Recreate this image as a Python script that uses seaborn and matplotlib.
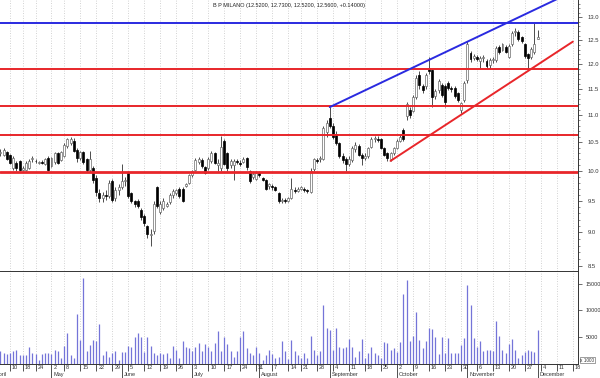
import matplotlib
matplotlib.use("Agg")
import matplotlib.pyplot as plt
import matplotlib.ticker as mticker
import matplotlib.transforms as mtransforms
import numpy as np
import pandas as pd
import seaborn as sns

# ---------------------------------------------------------------------------
# Data (B P MILANO, daily, April - December 2006)
# ---------------------------------------------------------------------------
START = "2006-04-03"
END = "2006-12-29"
HOLIDAYS = ["2006-04-14", "2006-04-17", "2006-05-01", "2006-08-15",
            "2006-12-25", "2006-12-26"]
FIRST_DAY = "2006-04-05"

OPEN = [10.30, 10.28, 10.32, 10.27, 10.05, 10.14, 10.16, 10.02, 10.02, 10.05,
        10.20, 10.17, 10.14, 10.15, 10.12, 10.22, 10.08, 10.15, 10.30, 10.18,
        10.26, 10.44, 10.48, 10.52, 10.36, 10.22, 10.32, 10.20, 10.02, 10.05,
        9.88, 9.62, 9.55, 9.60, 9.58, 9.82, 9.55, 9.68, 9.72, 9.82,
        9.97, 9.62, 9.50, 9.50, 9.35, 9.26, 9.10, 8.96, 9.02, 9.72,
        9.32, 9.38, 9.42, 9.48, 9.60, 9.62, 9.70, 9.70, 9.74, 9.80,
        9.92, 10.02, 10.15, 10.18, 10.06, 10.04, 10.16, 10.30, 10.10, 10.05,
        10.52, 10.30, 10.10, 10.10, 10.17, 10.14, 10.15, 10.22, 10.00, 9.90,
        9.86, 9.96, 9.87, 9.84, 9.74, 9.75, 9.72, 9.62, 9.50, 9.51,
        9.50, 9.55, 9.68, 9.66, 9.70, 9.70, 9.68, 9.65, 10.03, 10.18,
        10.20, 10.20, 10.68, 10.95, 10.80, 10.65, 10.48, 10.25, 10.20, 10.12,
        10.18, 10.38, 10.44, 10.28, 10.22, 10.25, 10.42, 10.55, 10.56, 10.55,
        10.40, 10.30, 10.20, 10.30, 10.40, 10.52, 10.72, 10.98, 11.10, 11.08,
        11.35, 11.78, 11.55, 11.55, 11.92, 11.88, 11.36, 11.48, 11.58, 11.55,
        11.62, 11.52, 11.52, 11.42, 11.10, 11.28, 11.68, 12.24, 12.12, 12.15,
        12.06, 12.12, 12.06, 11.98, 12.08, 12.08, 12.36, 12.30, 12.36, 12.15,
        12.42, 12.68, 12.68, 12.56, 12.42, 12.20, 12.15, 12.25, 12.52]
HIGH = [10.38, 10.40, 10.34, 10.29, 10.25, 10.16, 10.18, 10.08, 10.16, 10.20,
        10.25, 10.20, 10.17, 10.18, 10.22, 10.25, 10.24, 10.32, 10.33, 10.35,
        10.48, 10.58, 10.60, 10.57, 10.40, 10.35, 10.34, 10.22, 10.35, 10.08,
        9.92, 9.70, 9.65, 9.68, 9.85, 9.86, 9.72, 9.78, 10.12, 9.90,
        10.00, 9.65, 9.52, 9.53, 9.38, 9.28, 9.12, 9.05, 9.50, 9.75,
        9.50, 9.55, 9.48, 9.62, 9.70, 9.70, 9.72, 9.72, 9.80, 9.95,
        10.02, 10.22, 10.24, 10.22, 10.08, 10.24, 10.35, 10.32, 10.20, 10.62,
        10.55, 10.33, 10.20, 10.20, 10.20, 10.18, 10.24, 10.24, 10.02, 10.00,
        9.99, 10.00, 9.89, 9.86, 9.80, 9.78, 9.75, 9.64, 9.55, 9.54,
        9.56, 9.88, 9.72, 9.73, 9.75, 9.73, 9.70, 10.05, 10.22, 10.22,
        10.25, 10.80, 10.90, 11.15, 10.85, 10.70, 10.50, 10.30, 10.24, 10.25,
        10.43, 10.50, 10.47, 10.30, 10.30, 10.42, 10.60, 10.62, 10.62, 10.58,
        10.42, 10.32, 10.33, 10.42, 10.55, 10.65, 10.75, 11.25, 11.15, 11.38,
        11.78, 11.85, 11.60, 11.82, 12.15, 11.90, 11.50, 11.70, 11.62, 11.60,
        11.66, 11.56, 11.55, 11.45, 11.25, 11.66, 12.48, 12.28, 12.20, 12.18,
        12.16, 12.18, 12.10, 12.12, 12.14, 12.38, 12.40, 12.45, 12.40, 12.42,
        12.70, 12.77, 12.72, 12.60, 12.45, 12.24, 12.36, 12.87, 12.73]
LOW = [10.25, 10.25, 10.18, 10.12, 10.02, 10.00, 9.99, 9.99, 10.00, 10.03,
       10.15, 10.13, 10.12, 10.12, 10.10, 9.99, 10.06, 10.12, 10.12, 10.16,
       10.24, 10.40, 10.45, 10.32, 10.15, 10.18, 10.12, 9.98, 9.98, 9.80,
       9.58, 9.48, 9.48, 9.52, 9.55, 9.48, 9.50, 9.60, 9.70, 9.75,
       9.55, 9.46, 9.40, 9.38, 9.20, 9.10, 8.92, 8.80, 8.98, 9.38,
       9.28, 9.35, 9.40, 9.45, 9.55, 9.60, 9.55, 9.48, 9.72, 9.78,
       9.90, 10.00, 10.12, 10.05, 9.94, 10.02, 10.14, 10.12, 10.00, 10.00,
       10.10, 10.00, 10.05, 9.84, 10.12, 10.08, 10.13, 10.02, 9.80, 9.86,
       9.84, 9.90, 9.83, 9.68, 9.70, 9.68, 9.66, 9.46, 9.46, 9.47,
       9.48, 9.53, 9.63, 9.64, 9.68, 9.65, 9.62, 9.62, 10.00, 10.14,
       10.15, 10.18, 10.60, 10.76, 10.55, 10.45, 10.22, 10.14, 10.00, 10.08,
       10.15, 10.33, 10.25, 10.10, 10.18, 10.22, 10.40, 10.50, 10.50, 10.38,
       10.25, 10.17, 10.17, 10.28, 10.38, 10.50, 10.52, 10.90, 10.95, 11.05,
       11.30, 11.50, 11.42, 11.50, 11.80, 11.15, 11.30, 11.42, 11.34, 11.15,
       11.48, 11.45, 11.32, 11.25, 11.03, 11.25, 11.62, 12.05, 12.08, 12.06,
       11.90, 12.05, 11.90, 11.92, 12.02, 12.05, 12.20, 12.28, 12.22, 12.12,
       12.38, 12.60, 12.48, 12.44, 12.12, 11.88, 12.10, 12.20, 12.52]
CLOSE = [10.33, 10.36, 10.20, 10.14, 10.22, 10.04, 10.02, 10.04, 10.14, 10.17,
         10.22, 10.16, 10.15, 10.14, 10.20, 10.01, 10.22, 10.30, 10.14, 10.32,
         10.45, 10.55, 10.55, 10.34, 10.22, 10.32, 10.15, 10.02, 10.20, 9.85,
         9.65, 9.55, 9.60, 9.57, 9.80, 9.52, 9.68, 9.72, 9.82, 9.85,
         9.58, 9.50, 9.45, 9.42, 9.24, 9.15, 8.98, 8.98, 9.45, 9.42,
         9.45, 9.50, 9.45, 9.60, 9.66, 9.68, 9.58, 9.50, 9.77, 9.92,
         9.99, 10.18, 10.20, 10.08, 9.96, 10.20, 10.30, 10.14, 10.14, 10.42,
         10.12, 10.05, 10.16, 10.17, 10.15, 10.12, 10.20, 10.06, 9.83, 9.95,
         9.96, 9.92, 9.85, 9.70, 9.78, 9.72, 9.68, 9.49, 9.52, 9.50,
         9.54, 9.70, 9.66, 9.70, 9.72, 9.68, 9.66, 10.00, 10.20, 10.17,
         10.22, 10.75, 10.85, 10.80, 10.60, 10.48, 10.25, 10.18, 10.12, 10.20,
         10.40, 10.45, 10.28, 10.22, 10.25, 10.40, 10.56, 10.58, 10.54, 10.40,
         10.28, 10.22, 10.30, 10.40, 10.52, 10.60, 10.56, 11.20, 11.00, 11.34,
         11.72, 11.58, 11.48, 11.78, 11.85, 11.35, 11.46, 11.65, 11.38, 11.24,
         11.52, 11.50, 11.36, 11.28, 11.22, 11.62, 12.42, 12.10, 12.16, 12.10,
         12.12, 12.14, 11.96, 12.08, 12.10, 12.34, 12.25, 12.42, 12.26, 12.38,
         12.65, 12.70, 12.52, 12.48, 12.16, 12.12, 12.32, 12.42, 12.56]
VOLUME = [2400, 2000, 1800, 2100, 2500, 2600, 1700, 1700, 1600, 3100,
          2000, 1800, 800, 1800, 2000, 2100, 1900, 2700, 2500, 1200,
          3300, 5800, 1700, 1100, 9300, 4400, 16000, 2400, 3600, 4400,
          4200, 7500, 1700, 2400, 1300, 2000, 2500, 800, 2300, 2300,
          3300, 3100, 5100, 5800, 5100, 2300, 5100, 3300, 2100, 1700,
          2100, 1900, 2100, 1200, 3300, 2700, 1100, 4200, 3200, 2900,
          2500, 3100, 4000, 2500, 3800, 3100, 2500, 4000, 6100, 2500,
          5100, 3800, 2500, 1300, 2500, 5100, 6100, 2900, 2100, 1700,
          3100, 2000, 800, 1600, 2700, 1800, 1100, 1300, 4200, 2400,
          1000, 4400, 2500, 1700, 1100, 2000, 1200, 5300, 2700, 1700,
          2500, 11000, 6700, 6300, 2700, 6700, 3200, 3000, 3100, 4700,
          3200, 1300, 2400, 4700, 1200, 2000, 3200, 2000, 1700, 1200,
          4100, 4000, 2700, 3000, 2200, 4100, 13100, 15700, 4200, 5200,
          9700, 4400, 3000, 4200, 6700, 6500, 5100, 1800, 5100, 2000,
          4800, 2000, 2000, 2000, 3600, 4800, 14800, 11000, 4800, 3100,
          4200, 2400, 2700, 2700, 2400, 8000, 5200, 2700, 2000, 3700,
          4600, 2700, 1100, 1600, 2200, 2700, 2400, 2300, 6300]

# support / resistance levels and trend lines (day, price) -> (day, price)
H_RED = [11.90, 11.17, 10.63]
H_RED_THICK = 9.98
H_BLUE = 12.87
BLUE_TREND = [("2006-09-01", 11.15), ("2006-12-19", 13.62)]
RED_TREND = [("2006-09-28", 10.17), ("2006-12-18", 12.47)]

TITLE = "B P MILANO (12.5200, 12.7300, 12.5200, 12.5600, +0.14000)"
MONTHS = ["January", "February", "March", "April", "May", "June", "July",
          "August", "September", "October", "November", "December"]
PRICE_TICKS = [8.5, 9.0, 9.5, 10.0, 10.5, 11.0, 11.5, 12.0, 12.5, 13.0]
VOL_TICKS = [5000, 10000, 15000]
XLIM = (1.9, 182.6)

# ---------------------------------------------------------------------------
# trading calendar -> integer x positions
days = pd.bdate_range(START, END)
days = days[~days.isin(pd.to_datetime(HOLIDAYS))]
pos = pd.Series(np.arange(len(days)), index=days)

first = pos[pd.Timestamp(FIRST_DAY)]
x = np.arange(first, first + len(CLOSE))
df = pd.DataFrame({"x": x, "open": OPEN, "high": HIGH, "low": LOW,
                   "close": CLOSE, "volume": VOLUME})
df["up"] = df["close"] >= df["open"]

sns.set_theme(style="white")
plt.rcParams["font.family"] = ["Liberation Sans", "DejaVu Sans"]

fig = plt.figure(figsize=(6.0, 3.78), dpi=100)
ax = fig.add_axes([0.0, 0.2839, 0.9633, 0.7161])
axv = fig.add_axes([0.0, 0.037, 0.9633, 0.2468], sharex=ax)

GRID = dict(color="#c4c4c4", linestyle=(0, (1, 2)), linewidth=0.6)
TICK_FONT = 4.2

# --- candles
ax.vlines(df["x"], df["low"], df["high"], color="#303030", linewidth=0.6, zorder=3)
body_lo = df[["open", "close"]].min(axis=1)
body_h = (df["open"] - df["close"]).abs().clip(lower=0.012)
ax.bar(df["x"][df["up"]], body_h[df["up"]], bottom=body_lo[df["up"]], width=0.62,
       color="white", edgecolor="#6a6a6a", linewidth=0.5, zorder=4)
ax.bar(df["x"][~df["up"]], body_h[~df["up"]], bottom=body_lo[~df["up"]], width=0.62,
       color="black", edgecolor="black", linewidth=0.5, zorder=4)

# --- horizontal and trend lines
for lvl in H_RED:
    ax.axhline(lvl, color="#e8262a", linewidth=1.4, zorder=5)
ax.axhline(H_RED_THICK, color="#e8262a", linewidth=2.0, zorder=5)
ax.axhline(H_BLUE, color="#2a2ae0", linewidth=1.4, zorder=5)
for pts, col in [(BLUE_TREND, "#2a2ae0"), (RED_TREND, "#e8262a")]:
    tx = [pos[pd.Timestamp(d)] for d, _ in pts]
    ty = [p for _, p in pts]
    sns.lineplot(x=tx, y=ty, ax=ax, color=col, linewidth=1.4, zorder=6)

ax.set_yscale("log")
ax.set_ylim(8.43, 13.39)
ax.yaxis.tick_right()
ax.yaxis.set_major_locator(mticker.FixedLocator(PRICE_TICKS))
ax.yaxis.set_major_formatter(mticker.FixedFormatter([f"{t:.1f}" for t in PRICE_TICKS]))
ax.yaxis.set_minor_locator(mticker.FixedLocator(np.arange(8.5, 13.35, 0.1)))
ax.yaxis.set_minor_formatter(mticker.NullFormatter())
ax.tick_params(axis="y", which="major", labelsize=TICK_FONT, length=3, width=0.5,
               pad=4, colors="#333333", right=True)
ax.tick_params(axis="y", which="minor", length=1.5, width=0.4, color="#333333",
               right=True)
ax.tick_params(axis="x", bottom=False, labelbottom=False)

# --- volume
axv.vlines(df["x"], 0, df["volume"], color="#7474d8", linewidth=0.9)
axv.set_ylim(0, 17400)
axv.yaxis.tick_right()
axv.set_yticks(VOL_TICKS)
axv.set_yticklabels([str(v) for v in VOL_TICKS])
axv.tick_params(axis="y", labelsize=3.9, length=3, width=0.5, pad=2.5,
                colors="#333333", right=True)
axv.text(1.004, 0.015, "x 1000", transform=axv.transAxes, fontsize=3.4,
         color="#333333", va="bottom", ha="left",
         bbox=dict(boxstyle="square,pad=0.15", facecolor="white",
                   edgecolor="#555555", linewidth=0.4))

# --- weekly / monthly ticks on the date axis
week_start = days.to_series().groupby(days.to_period("W")).min()
month_start = days.to_series().groupby(days.to_period("M")).min()
wx = [pos[d] for d in week_start]
mx = [pos[d] for d in month_start]
axv.set_xticks(mx)
axv.set_xticks(wx, minor=True)
axv.set_xticklabels([])
axv.tick_params(axis="x", which="major", bottom=True, direction="out",
                length=10, width=0.6, color="#333333", labelbottom=False)
axv.tick_params(axis="x", which="minor", bottom=True, direction="out",
                length=5, width=0.6, color="#333333")

for a in (ax, axv):
    a.grid(False)
    for t in wx:
        a.axvline(t, zorder=0, **GRID)
    for s in ("left", "top", "bottom"):
        a.spines[s].set_visible(False)
    a.spines["right"].set_color("#333333")
    a.spines["right"].set_linewidth(0.7)
axv.spines["top"].set_visible(True)
axv.spines["bottom"].set_visible(True)
for s in ("top", "bottom"):
    axv.spines[s].set_color("#333333")
    axv.spines[s].set_linewidth(0.7)

# set_xticks widens the view, so the limits go on last
ax.set_xlim(*XLIM)

trans = mtransforms.blended_transform_factory(axv.transData, axv.transAxes)
for d in week_start:
    if XLIM[0] - 1 < pos[d] < XLIM[1]:
        axv.text(pos[d] + 0.6, -0.012, str(d.day), transform=trans, fontsize=4.0,
                 color="#333333", ha="left", va="top", clip_on=False)
for d in month_start:
    if XLIM[0] - 3 < pos[d] < XLIM[1]:
        axv.text(pos[d] + 0.6, -0.085, MONTHS[d.month - 1], transform=trans,
                 fontsize=4.0, color="#333333", ha="left", va="top", clip_on=False)

fig.text(0.482, 0.992, TITLE, fontsize=4.0, color="#222222", ha="center", va="top")

fig.savefig("out.png", dpi=100, facecolor="white")
